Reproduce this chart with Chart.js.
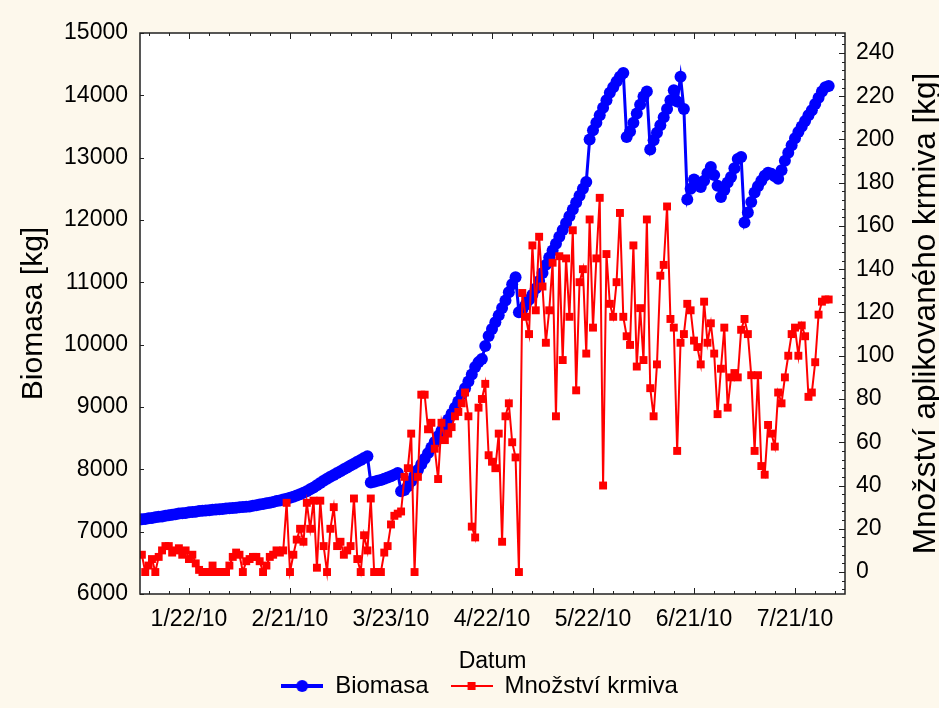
<!DOCTYPE html>
<html>
<head>
<meta charset="utf-8">
<script src="https://cdn.jsdelivr.net/npm/chart.js@4.4.1/dist/chart.umd.min.js"></script>
<style>
  html, body { margin: 0; padding: 0; background: #fdf8ec; }
  canvas { display: block; }
</style>
</head>
<body>
<canvas id="chart" width="939" height="708"></canvas>
<script>
// Daily records; day numbers count from 1 Jan 2010 (day 0)
const firstDay = 7;

// Biomasa [kg], one value per day
const biomasa = [
  7200,7205,7215,7220,7230,7240,7245,7255,7265,7270,
  7280,7290,7295,7300,7310,7315,7320,7330,7335,7340,
  7345,7350,7355,7360,7365,7370,7375,7380,7385,7390,
  7395,7400,7405,7415,7425,7435,7445,7455,7465,7475,
  7490,7500,7515,7530,7545,7560,7580,7600,7625,7650,
  7680,7710,7745,7780,7815,7850,7880,7910,7940,7970,
  8000,8030,8060,8090,8120,8150,8180,8210,7790,7800,
  7815,7830,7850,7870,7890,7915,7940,7650,7670,7730,
  7810,7900,7990,8080,8170,8260,8350,8440,8530,8620,
  8710,8800,8890,8990,9090,9200,9300,9410,9520,9640,
  9720,9770,9980,10140,10250,10360,10470,10590,10710,10840,
  10970,11080,10520,10570,10640,10720,10800,10900,11020,11150,
  11280,11400,11510,11620,11730,11840,11950,12060,12170,12280,
  12390,12500,12610,13290,13440,13560,13680,13800,13920,14040,
  14130,14220,14300,14360,13330,13420,13560,13710,13850,13980,
  14060,13130,13280,13400,13520,13650,13780,13920,14080,13900,
  14300,13780,12330,12500,12650,12600,12530,12630,12750,12850,
  12720,12550,12370,12480,12600,12690,12830,12980,13010,11960,
  12120,12290,12440,12540,12630,12710,12760,12740,12700,12660,
  12800,12950,13080,13200,13310,13410,13500,13590,13680,13760,
  13860,13960,14060,14130,14150
];

// Množství krmiva [kg], one value per day
const krmivo = [
  8,0,3,6,0,7,10,12,12,9,
  10,11,8,10,6,8,4,1,0,0,
  0,3,0,0,0,0,3,7,9,8,
  0,5,6,7,7,5,0,3,7,8,
  10,9,10,32,0,8,15,20,14,32,
  20,33,2,33,12,0,20,30,12,14,
  8,10,12,34,6,0,17,10,34,0,
  0,0,9,12,22,26,27,28,44,48,
  64,0,44,82,82,66,69,57,43,69,
  61,64,67,72,74,78,83,72,21,16,
  76,80,87,54,51,48,64,14,72,78,
  60,53,0,129,118,110,151,121,155,132,
  106,121,143,72,146,98,145,118,158,84,
  134,140,101,163,113,145,173,40,147,124,
  118,134,166,118,109,105,151,95,122,98,
  163,85,72,96,137,142,169,117,113,56,
  106,110,124,121,107,104,96,125,106,115,
  101,73,94,113,76,90,92,90,112,117,
  110,91,56,91,49,45,68,64,58,83,
  78,90,100,110,113,100,114,109,81,83,
  97,119,125,126,126
];

// Labelled dates (day numbers) and value ticks
const dateTicks = [21, 51, 81, 111, 141, 171, 201];
const biomasaTicks = [6000, 7000, 8000, 9000, 10000, 11000, 12000, 13000, 14000, 15000];
const krmivoTicks = [0, 20, 40, 60, 80, 100, 120, 140, 160, 180, 200, 220, 240];

const leftTitle = 'Biomasa [kg]';
const rightTitle = 'Množství aplikovaného krmiva [kg]';
const xTitle = 'Datum';

const FONT = '"Liberation Sans", Arial, Helvetica, sans-serif';
Chart.defaults.font.family = FONT;
Chart.defaults.color = '#000';

function dayLabel(d) {
  const dt = new Date(2010, 0, 1 + d);
  return (dt.getMonth() + 1) + '/' + dt.getDate() + '/' + String(dt.getFullYear()).slice(2);
}

const biomasaPoints = biomasa.map((v, i) => ({ x: firstDay + i, y: v }));
const krmivoPoints = krmivo.map((v, i) => ({ x: firstDay + i, y: v }));

// Legend symbols: short line with the series marker in the middle
function legendIcon(color, lineWidth, drawMarker) {
  const c = document.createElement('canvas');
  c.width = 42; c.height = 16;
  const g = c.getContext('2d');
  g.strokeStyle = color; g.fillStyle = color; g.lineWidth = lineWidth;
  g.beginPath(); g.moveTo(0, 8); g.lineTo(42, 8); g.stroke();
  drawMarker(g);
  return c;
}
const legendIcons = [
  legendIcon('#0000ff', 4, g => { g.beginPath(); g.arc(21, 8, 6, 0, Math.PI * 2); g.fill(); }),
  legendIcon('#ff0000', 2, g => { g.fillRect(17, 4, 8, 8); })
];

// White plot area, frame, inward tick marks and the right-hand axis title
const frame = {
  id: 'frame',
  beforeDatasetsDraw(chart) {
    const { ctx, chartArea: a } = chart;
    ctx.save();
    ctx.fillStyle = '#ffffff';
    ctx.fillRect(a.left, a.top, a.right - a.left, a.bottom - a.top);
    ctx.restore();
  },
  afterDatasetsDraw(chart) {
    const { ctx, chartArea: a, scales } = chart;
    ctx.save();
    ctx.strokeStyle = '#202020';
    ctx.lineWidth = 1;
    ctx.beginPath();
    for (let d = 9; d <= 213; d += 6) {
      const x = Math.round(scales.x.getPixelForValue(d)) + 0.5;
      const len = dateTicks.includes(d) ? 6 : 3;
      ctx.moveTo(x, a.bottom); ctx.lineTo(x, a.bottom - len);
      ctx.moveTo(x, a.top); ctx.lineTo(x, a.top + len);
    }
    for (const v of biomasaTicks) {
      const y = Math.round(scales.y.getPixelForValue(v)) + 0.5;
      ctx.moveTo(a.left, y); ctx.lineTo(a.left + 4, y);
    }
    for (let v = -8; v <= 248; v += 4) {
      const y = Math.round(scales.y1.getPixelForValue(v)) + 0.5;
      const len = v % 20 === 0 ? 6 : 3;
      ctx.moveTo(a.right, y); ctx.lineTo(a.right - len, y);
    }
    ctx.stroke();
    ctx.lineWidth = 1.5;
    ctx.strokeRect(a.left, a.top, a.right - a.left, a.bottom - a.top);
    ctx.restore();
  },
  afterDraw(chart) {
    const { ctx, chartArea: a, scales } = chart;
    ctx.save();
    ctx.translate(scales.y1.right - 13, (a.top + a.bottom) / 2);
    ctx.rotate(-Math.PI / 2);
    ctx.font = '31.5px ' + FONT;
    ctx.fillStyle = '#000';
    ctx.textAlign = 'center';
    ctx.textBaseline = 'middle';
    ctx.fillText(rightTitle, 0, 0);
    ctx.restore();
  }
};

new Chart(document.getElementById('chart'), {
  type: 'line',
  data: {
    datasets: [
      {
        label: 'Biomasa',
        data: biomasaPoints,
        yAxisID: 'y',
        borderColor: '#0000ff',
        backgroundColor: '#0000ff',
        borderWidth: 3,
        pointStyle: 'circle',
        pointRadius: 6,
        pointBorderWidth: 0,
        tension: 0,
        order: 2
      },
      {
        label: 'Množství krmiva',
        data: krmivoPoints,
        yAxisID: 'y1',
        borderColor: '#ff0000',
        backgroundColor: '#ff0000',
        borderWidth: 2,
        pointStyle: 'rect',
        pointRadius: 5.6,
        pointBorderWidth: 0,
        tension: 0,
        order: 1
      }
    ]
  },
  options: {
    responsive: false,
    animation: false,
    events: [],
    layout: { padding: { top: 33, left: 20, right: 0, bottom: 0 } },
    scales: {
      x: {
        type: 'linear',
        min: 6.45,
        max: 215.85,
        afterBuildTicks: s => { s.ticks = dateTicks.map(v => ({ value: v })); },
        afterFit: s => { s.height = 58; },
        grid: { display: false, drawTicks: false },
        border: { display: false },
        ticks: {
          autoSkip: false, maxRotation: 0, padding: 12,
          font: { size: 23 }, color: '#000',
          callback: v => dayLabel(v)
        },
        title: { display: true, text: xTitle, font: { size: 23 }, color: '#000', padding: { top: 0, bottom: -23 } }
      },
      y: {
        position: 'left',
        min: 6000,
        max: 15000,
        afterBuildTicks: s => { s.ticks = biomasaTicks.map(v => ({ value: v })); },
        afterFit: s => { s.width = 120; },
        grid: { display: false, drawTicks: false },
        border: { display: false },
        ticks: { padding: 12, font: { size: 23 }, color: '#000', callback: v => String(v) },
        title: { display: true, text: leftTitle, font: { size: 30 }, color: '#000', padding: { top: -4, bottom: 0 } }
      },
      y1: {
        position: 'right',
        min: -10.15,
        max: 249.2,
        afterBuildTicks: s => { s.ticks = krmivoTicks.map(v => ({ value: v })); },
        afterFit: s => { s.width = 94; },
        grid: { display: false, drawTicks: false },
        border: { display: false },
        ticks: { padding: 11, font: { size: 23 }, color: '#000', callback: v => String(v) }
      }
    },
    plugins: {
      legend: {
        position: 'bottom',
        labels: {
          usePointStyle: true,
          pointStyleWidth: 42,
          padding: 22,
          font: { size: 24 },
          color: '#000',
          generateLabels: chart => chart.data.datasets.map((ds, i) => ({
            text: ds.label,
            pointStyle: legendIcons[i],
            fillStyle: ds.borderColor,
            strokeStyle: ds.borderColor,
            lineWidth: 0,
            hidden: false,
            datasetIndex: i
          }))
        }
      },
      tooltip: { enabled: false }
    }
  },
  plugins: [frame]
});
</script>
</body>
</html>
